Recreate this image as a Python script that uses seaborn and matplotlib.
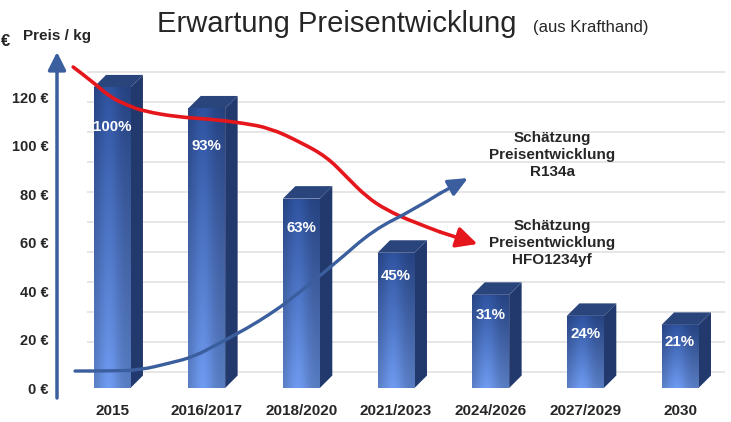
import numpy as np
import matplotlib
matplotlib.use('Agg')
import matplotlib.pyplot as plt
from matplotlib.patches import Polygon, PathPatch
from matplotlib.path import Path
import seaborn as sns

# Daten
kategorien = ['2015', '2016/2017', '2018/2020', '2021/2023', '2024/2026', '2027/2029', '2030']
anteil_pct = [100, 93, 63, 45, 31, 24, 21]
preis_2015 = 124            # € / kg  (= 100 %)
euro_ticks = [0, 20, 40, 60, 80, 100, 120]

# geschätzte Verläufe (x = Kategorie-Position, y = €/kg)
hfo_x = [-0.41, -0.20, -0.02, 0.16, 0.33, 0.69, 1.04, 1.38, 1.67, 1.99, 2.27, 2.48, 2.69, 2.90, 3.18, 3.47, 3.86]
hfo_y = [132.4, 126.2, 120.0, 116.7, 114.2, 111.8, 110.9, 109.3, 107.2, 101.4, 95.3, 87.0, 78.8, 73.4, 68.5, 64.3, 59.4]
r134a_x = [-0.39, -0.02, 0.30, 0.61, 0.86, 1.14, 1.43, 1.67, 1.88, 2.36, 2.76, 3.18, 3.47, 3.76]
r134a_y = [7.0, 7.0, 7.4, 10.3, 12.8, 18.6, 24.7, 30.5, 36.3, 51.5, 65.2, 73.4, 80.4, 86.6]

preis = [p / 100 * preis_2015 for p in anteil_pct]

sns.set_theme(style='white')
plt.rcParams['font.family'] = ['Liberation Sans', 'DejaVu Sans']

fig = plt.figure(figsize=(7.31, 4.22), dpi=100)
ax = fig.add_axes([57 / 731, 24 / 422, 668 / 731, 346 / 422])

# Gitterlinien (Rückwand)
grid_y = [preis_2015 * k / 10 + 6.5 for k in range(11)]
ax.hlines(grid_y, -0.26, 6.47, color='#e6e6e6', lw=1.4, zorder=1)

sns.barplot(x=kategorien, y=preis, color='#2f529a', saturation=1, width=0.39, ax=ax, zorder=3)

# Farbverlauf für die Vorderseite
nx, ny = 60, 120
u = np.linspace(0, 1, nx)
v = np.linspace(0, 1, ny)[:, None]
unten = np.array([0.40, 0.56, 0.87])
oben = np.array([0.17, 0.30, 0.58])
farbe = unten + (oben - unten) * v[..., None]
hell = 0.86 + 0.22 * np.exp(-((u - 0.4) / 0.3) ** 2)
img = np.clip(farbe * hell[None, :, None], 0, 1)

dx, dy = 0.132, 5.15      # 3D-Tiefe
for i, bar in enumerate(list(ax.patches)):
    x0 = bar.get_x()
    w = bar.get_width()
    h = bar.get_height()
    im = ax.imshow(img, extent=(x0, x0 + w, 0, h), origin='lower', aspect='auto', zorder=3.1)
    im.set_clip_path(bar)
    ax.add_patch(Polygon([(x0 + w, 0), (x0 + w + dx, dy), (x0 + w + dx, h + dy), (x0 + w, h)],
                         closed=True, fc='#22396e', ec='none', zorder=3))
    ax.add_patch(Polygon([(x0, h), (x0 + dx, h + dy), (x0 + w + dx, h + dy), (x0 + w, h)],
                         closed=True, fc='#2a447c', ec='none', zorder=3))
    ax.text(x0 + w / 2, h - (4.5 + 0.095 * h), f'{anteil_pct[i]}%', color='white',
            fontweight='bold', fontsize=10.8, ha='center', va='center', zorder=4)


def glatte_kurve(xs, ys, farbe, lw):
    # Punkte als Kontrollpunkte einer quadratischen Bezier-Kette
    pts = list(zip(xs, ys))
    verts = [pts[0]]
    codes = [Path.MOVETO]
    for k in range(1, len(pts) - 1):
        mx = (pts[k][0] + pts[k + 1][0]) / 2
        my = (pts[k][1] + pts[k + 1][1]) / 2
        if k == len(pts) - 2:
            mx, my = pts[k + 1]
        verts += [pts[k], (mx, my)]
        codes += [Path.CURVE3, Path.CURVE3]
    ax.add_patch(PathPatch(Path(verts, codes), fc='none', ec=farbe, lw=lw,
                           capstyle='round', joinstyle='round', zorder=5))


# Kurven mit Pfeilspitzen
rot = '#e5161c'
blau = '#3b5e9e'
glatte_kurve(hfo_x[:-1], hfo_y[:-1], rot, 2.6)
ax.annotate('', xy=(hfo_x[-1], hfo_y[-1]), xytext=(hfo_x[-2], hfo_y[-2]),
            arrowprops=dict(arrowstyle='-|>,head_length=0.9,head_width=0.45', mutation_scale=14,
                            color=rot, lw=2.6, shrinkA=0, shrinkB=0), zorder=5)
glatte_kurve(r134a_x[:-1], r134a_y[:-1], blau, 2.4)
ax.annotate('', xy=(r134a_x[-1], r134a_y[-1]), xytext=(r134a_x[-2], r134a_y[-2]),
            arrowprops=dict(arrowstyle='-|>,head_length=0.9,head_width=0.4', mutation_scale=13,
                            color=blau, lw=2.4, shrinkA=0, shrinkB=0), zorder=5)

ax.text(4.65, 96.1, 'Schätzung\nPreisentwicklung\nR134a', ha='center', va='center',
        fontweight='bold', fontsize=11, linespacing=1.25)
ax.text(4.65, 59.8, 'Schätzung\nPreisentwicklung\nHFO1234yf', ha='center', va='center',
        fontweight='bold', fontsize=11, linespacing=1.25)

# y-Achse als Pfeil
ax.annotate('', xy=(0, 1), xycoords='axes fraction', xytext=(0, 0), textcoords='axes fraction',
            arrowprops=dict(arrowstyle='-|>,head_length=0.9,head_width=0.45', mutation_scale=12,
                            color=blau, lw=2.5, shrinkA=0, shrinkB=0), annotation_clip=False)

ax.set_xlim(-0.581, 6.475)
ax.set_ylim(-4.12, 138.6)
ax.set_yticks(euro_ticks)
ax.set_yticklabels([f'{t} €' for t in euro_ticks], fontweight='bold', fontsize=10.5)
ax.tick_params(axis='y', length=0, pad=6)
ax.tick_params(axis='x', length=0, pad=4, labelsize=11)
for lab in ax.get_xticklabels():
    lab.set_fontweight('bold')
ax.set_xlabel('')
ax.set_ylabel('')
sns.despine(ax=ax, left=True, bottom=True)
ax.grid(False)

fig.text(157 / 731, 1 - 32 / 422, 'Erwartung Preisentwicklung', fontsize=21, va='baseline')
fig.text(533 / 731, 1 - 32 / 422, '(aus Krafthand)', fontsize=12, va='baseline')
fig.text(23 / 731, 1 - 40 / 422, 'Preis / kg', fontsize=11, fontweight='bold', va='baseline')
fig.text(1 / 731, 1 - 46 / 422, '€', fontsize=12, fontweight='bold', ha='left', va='baseline')

fig.savefig('out.png', dpi=100)
